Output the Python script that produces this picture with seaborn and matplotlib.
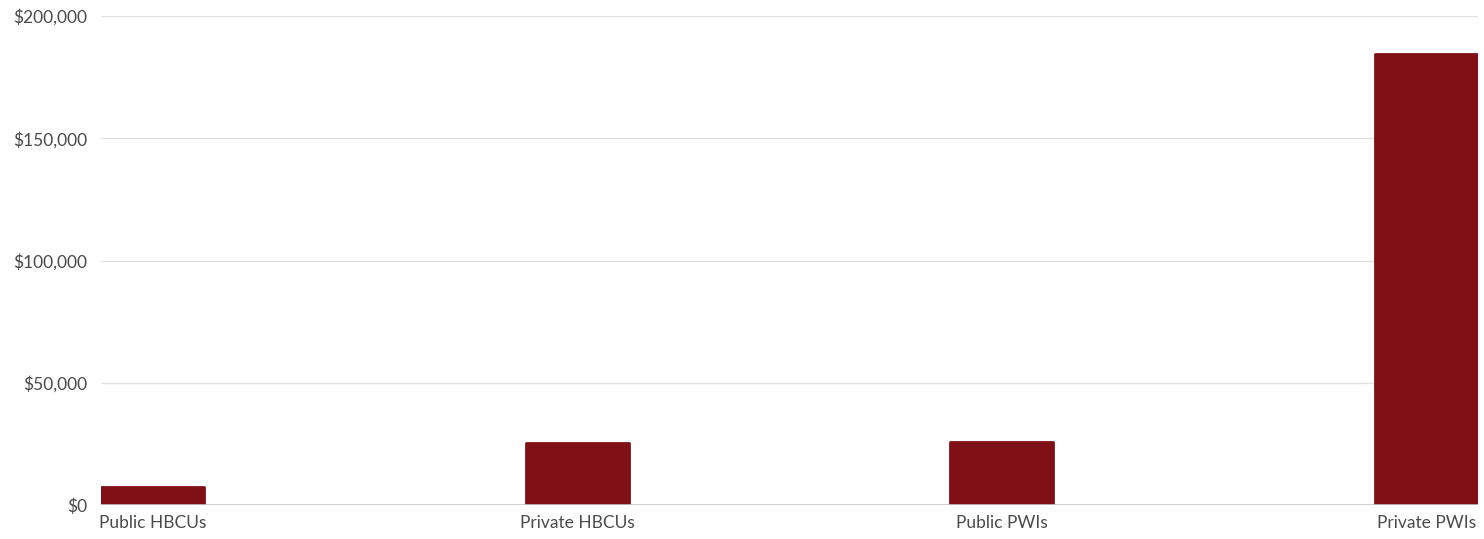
import pandas as pd
import seaborn as sns
import matplotlib.pyplot as plt
from matplotlib.ticker import FuncFormatter

# values
categories = ["Public HBCUs", "Private HBCUs", "Public PWIs", "Private PWIs"]
values = [7500, 25200, 25900, 184400]
y_ticks = [0, 50000, 100000, 150000, 200000]

df = pd.DataFrame({"category": categories, "value": values})

sns.set_style("white")
plt.rcParams["font.family"] = ["Lato", "DejaVu Sans"]

fig = plt.figure(figsize=(14.84, 5.39), dpi=100)
ax = fig.add_axes([0.068, 0.063, 0.928, 0.907])

bar_w = 0.243
sns.barplot(data=df, x="category", y="value", color="#7f1016",
            saturation=1, width=bar_w, ax=ax, zorder=3)

# bars have slightly rounded tops in the original
for p in ax.patches:
    p.set_edgecolor("#7f1016")
    p.set_linewidth(2)
    p.set_joinstyle("round")

ax.set_xlim(-bar_w / 2, len(categories) - 1 + bar_w / 2)
ax.set_ylim(0, 200000)
ax.set_yticks(y_ticks)
ax.yaxis.set_major_formatter(FuncFormatter(lambda v, _: f"${v:,.0f}"))

ax.grid(axis="y", color="#e3e3e3", linewidth=1, zorder=0)
ax.axhline(0, color="#c8c8c8", linewidth=1.2, zorder=4)
for s in ax.spines.values():
    s.set_visible(False)

ax.tick_params(axis="y", length=0, pad=10, labelsize=12.5, labelcolor="#4a4a4a")
ax.tick_params(axis="x", length=0, pad=7, labelsize=12.5, labelcolor="#4a4a4a")
ax.set_xlabel("")
ax.set_ylabel("")

fig.savefig("out.png", dpi=100)
